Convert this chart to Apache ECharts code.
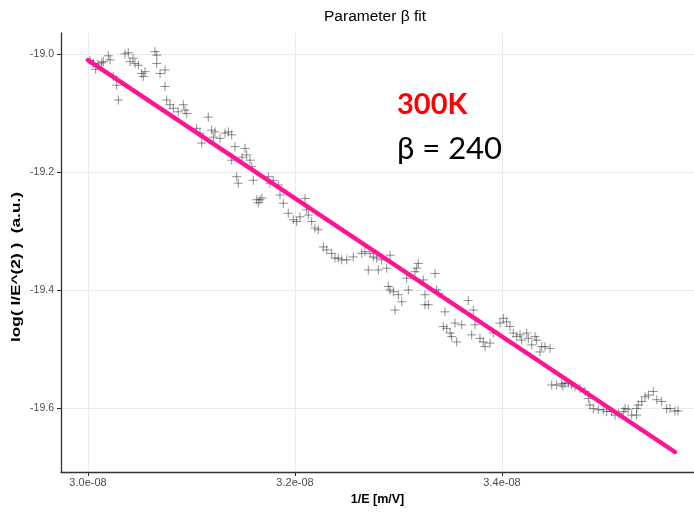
<!DOCTYPE html>
<html>
<head>
<meta charset="utf-8">
<script src="https://cdn.jsdelivr.net/npm/echarts@6/dist/echarts.min.js"></script>
<style>
  html, body { margin: 0; padding: 0; background: #ffffff; }
  #chart { width: 694px; height: 512px; }
</style>
</head>
<body>
<div id="chart"></div>
<script>
// 1/E in units of 1e-8 m/V
const invE = [
  3.0019, 3.0051, 3.0074, 3.0097, 3.0132, 3.0148, 3.0196, 3.0213, 3.0244, 3.0277,
  3.0293, 3.0357, 3.0389, 3.0406, 3.0435, 3.0454, 3.0486, 3.0519, 3.0534, 3.0551,
  3.0647, 3.0664, 3.0664, 3.0696, 3.0744, 3.0744, 3.0760, 3.0792, 3.0824, 3.0872,
  3.0921, 3.0937, 3.0954, 3.1050, 3.1082, 3.1099, 3.1162, 3.1195, 3.1211, 3.1227,
  3.1275, 3.1324, 3.1356, 3.1388, 3.1388, 3.1420, 3.1437, 3.1452, 3.1488, 3.1517,
  3.1533, 3.1565, 3.1582, 3.1597, 3.1630, 3.1645, 3.1662, 3.1681, 3.1742, 3.1758,
  3.1790, 3.1839, 3.1855, 3.1887, 3.1935, 3.1984, 3.2016, 3.2048, 3.2097, 3.2113,
  3.2129, 3.2161, 3.2193, 3.2225, 3.2273, 3.2306, 3.2355, 3.2386, 3.2418, 3.2451,
  3.2500, 3.2563, 3.2644, 3.2676, 3.2708, 3.2725, 3.2757, 3.2789, 3.2805, 3.2838,
  3.2886, 3.2901, 3.2918, 3.2918, 3.2950, 3.2966, 3.2998, 3.3031, 3.3079, 3.3095,
  3.3159, 3.3176, 3.3191, 3.3240, 3.3256, 3.3256, 3.3288, 3.3353, 3.3369, 3.3385,
  3.3433, 3.3449, 3.3466, 3.3498, 3.3514, 3.3546, 3.3562, 3.3611, 3.3674, 3.3707,
  3.3723, 3.3739, 3.3787, 3.3819, 3.3836, 3.3884, 3.3916, 3.3981, 3.4013, 3.4045,
  3.4077, 3.4109, 3.4142, 3.4174, 3.4190, 3.4239, 3.4254, 3.4287, 3.4319, 3.4335,
  3.4367, 3.4384, 3.4415, 3.4464, 3.4480, 3.4529, 3.4577, 3.4589, 3.4609, 3.4641,
  3.4673, 3.4705, 3.4754, 3.4802, 3.4834, 3.4850, 3.4882, 3.4930, 3.4979, 3.5012,
  3.5060, 3.5092, 3.5124, 3.5172, 3.5188, 3.5220, 3.5253, 3.5301, 3.5301, 3.5317,
  3.5350, 3.5382, 3.5414, 3.5462, 3.5495, 3.5543, 3.5591, 3.5623, 3.5671, 3.5700
];

// log( I/E^2 ) in a.u.
const logIE2 = [
  -19.011, -19.016, -19.026, -19.017, -19.015, -19.013, -19.003, -19.010, -19.038, -19.053,
  -19.078, -19.000, -18.998, -19.013, -19.007, -19.016, -19.019, -19.033, -19.038, -19.030,
  -18.996, -19.002, -19.016, -19.033, -19.027, -19.055, -19.078, -19.086, -19.092, -19.098,
  -19.086, -19.095, -19.101, -19.126, -19.134, -19.151, -19.107, -19.129, -19.141, -19.132,
  -19.143, -19.134, -19.132, -19.137, -19.180, -19.157, -19.208, -19.219, -19.175, -19.160,
  -19.171, -19.180, -19.191, -19.214, -19.247, -19.252, -19.247, -19.244, -19.208, -19.219,
  -19.214, -19.222, -19.239, -19.253, -19.270, -19.281, -19.284, -19.276, -19.245, -19.264,
  -19.273, -19.284, -19.295, -19.298, -19.327, -19.332, -19.338, -19.346, -19.346, -19.349,
  -19.349, -19.344, -19.338, -19.335, -19.366, -19.338, -19.344, -19.346, -19.366, -19.349,
  -19.363, -19.394, -19.341, -19.400, -19.403, -19.434, -19.408, -19.420, -19.380, -19.400,
  -19.369, -19.363, -19.355, -19.383, -19.408, -19.425, -19.425, -19.372, -19.400, -19.406,
  -19.462, -19.437, -19.465, -19.473, -19.479, -19.456, -19.488, -19.459, -19.418, -19.476,
  -19.434, -19.459, -19.482, -19.488, -19.496, -19.490, -19.473, -19.456, -19.448, -19.454,
  -19.462, -19.473, -19.479, -19.476, -19.485, -19.473, -19.482, -19.493, -19.479, -19.485,
  -19.505, -19.496, -19.496, -19.499, -19.561, -19.561, -19.559, -19.563, -19.558, -19.558,
  -19.561, -19.564, -19.567, -19.572, -19.584, -19.595, -19.601, -19.603, -19.603, -19.606,
  -19.606, -19.612, -19.609, -19.606, -19.601, -19.602, -19.612, -19.612, -19.601, -19.595,
  -19.589, -19.581, -19.578, -19.572, -19.586, -19.589, -19.601, -19.601, -19.605, -19.605
];

// Fitted straight line, end points
const fitX = [3.0, 3.5671];
const fitY = [-19.0102, -19.6746];

// Tick positions
const xTicks = [3.0, 3.2, 3.4];
const yTicks = [-19.6, -19.4, -19.2, -19.0];

const points = invE.map((x, i) => [x, logIE2[i]]);
const fitLine = fitX.map((x, i) => [x, fitY[i]]);

const chart = echarts.init(document.getElementById('chart'), null, { renderer: 'canvas' });

const gridColor = '#ebebeb';
const axisColor = '#333333';
const labelColor = '#4d4d4d';
const baseFont = '"Liberation Sans", Arial, sans-serif';

chart.setOption({
  backgroundColor: '#ffffff',
  animation: false,
  grid: { left: 61, right: 0, top: 33, bottom: 40, containLabel: false },
  xAxis: {
    type: 'value',
    min: 2.9739,
    max: 3.5855,
    name: '1/E [m/V]',
    nameLocation: 'middle',
    nameGap: 21,
    nameTextStyle: { fontFamily: baseFont, fontSize: 12.5, fontWeight: 'bold', color: '#000000' },
    axisLine: { show: true, onZero: false, lineStyle: { color: axisColor, width: 1.3 } },
    axisTick: { show: true, customValues: xTicks, length: 4, lineStyle: { color: axisColor, width: 1 } },
    axisLabel: {
      customValues: xTicks,
      formatter: v => v.toFixed(1) + 'e-08',
      fontFamily: baseFont, fontSize: 11, color: labelColor, margin: 5
    },
    splitLine: { show: true, lineStyle: { color: gridColor, width: 1 } }
  },
  yAxis: {
    type: 'value',
    min: -19.7085,
    max: -18.9644,
    axisLine: { show: true, onZero: false, lineStyle: { color: axisColor, width: 1.3 } },
    axisTick: { show: true, customValues: yTicks, length: 4, lineStyle: { color: axisColor, width: 1 } },
    axisLabel: {
      customValues: yTicks,
      formatter: v => v.toFixed(1),
      fontFamily: baseFont, fontSize: 10.5, color: labelColor, margin: 7
    },
    splitLine: { show: true, lineStyle: { color: gridColor, width: 1 } }
  },
  series: [
    {
      name: 'measured',
      type: 'scatter',
      data: points,
      symbol: 'path://M0,5L10,5M5,0L5,10',
      symbolSize: 9,
      itemStyle: { color: 'rgba(0,0,0,0)', borderColor: 'rgba(40,40,40,0.65)', borderWidth: 1 },
      z: 2
    },
    {
      name: 'fit',
      type: 'line',
      data: fitLine,
      symbol: 'none',
      lineStyle: { color: '#ff1493', width: 4.5, cap: 'round' },
      z: 3
    }
  ],
  graphic: [
    {
      // chart title
      type: 'text',
      x: 375,
      y: 17,
      style: {
        text: 'Parameter \u03b2 fit',
        font: '15.5px "Liberation Sans", Arial, sans-serif',
        fill: '#000000',
        align: 'center',
        verticalAlign: 'middle'
      }
    },
    {
      // y axis title, stretched along its length
      type: 'text',
      x: 17,
      y: 267,
      rotation: Math.PI / 2,
      scaleX: 1.38,
      scaleY: 1,
      style: {
        text: 'log( I/E^(2) )  (a.u.)',
        font: 'bold 12.5px "Liberation Sans", Arial, sans-serif',
        fill: '#000000',
        align: 'center',
        verticalAlign: 'middle'
      }
    },
    {
      type: 'text',
      left: 397,
      top: 90,
      style: { text: '300K', font: 'bold 29px Lato, "Open Sans", sans-serif', fill: '#ff0000' }
    },
    {
      type: 'text',
      left: 397,
      top: 133,
      style: { text: '\u03b2 = 240', font: '31px Lato, "Open Sans", sans-serif', fill: '#000000' }
    }
  ]
});
</script>
</body>
</html>
